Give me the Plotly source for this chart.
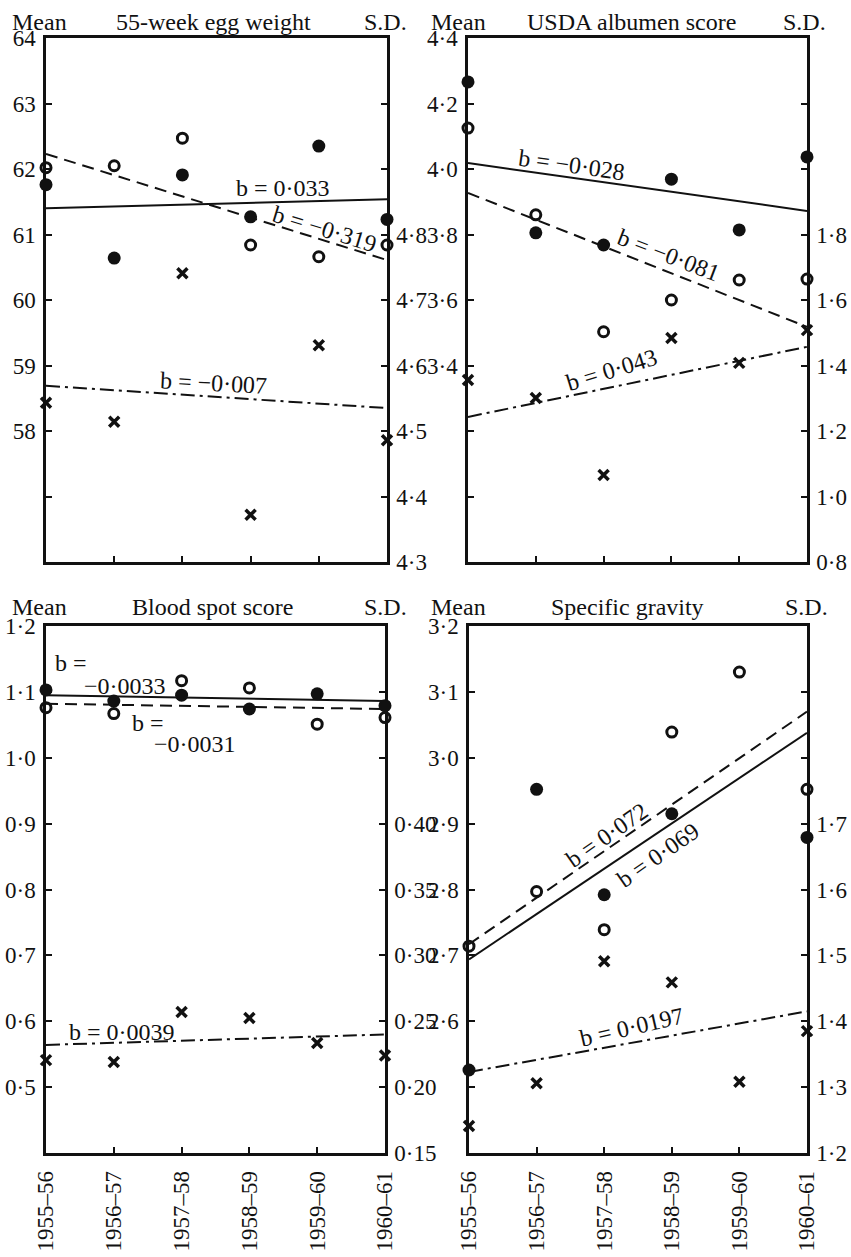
import plotly.graph_objects as go

# ---------------- data ----------------
years = ["1955–56", "1956–57", "1957–58", "1958–59", "1959–60", "1960–61"]
xi = [0, 1, 2, 3, 4, 5]
x_ends = [0, 5]

# Panel 1: 55-week egg weight
ew_filled = [61.76, 60.64, 61.91, 61.27, 62.35, 61.23]
ew_open = [62.02, 62.05, 62.47, 60.84, 60.66, 60.84]
ew_sd = [4.543, 4.514, 4.741, 4.372, 4.631, 4.486]
ew_fit_filled = [61.40, 61.54]
ew_fit_open = [62.23, 60.61]
ew_fit_sd = [4.569, 4.535]

# Panel 2: USDA albumen score
alb_filled = [4.266, 3.805, 3.768, 3.969, 3.814, 4.037]
alb_open = [4.125, 3.86, 3.503, 3.60, 3.661, 3.664]
alb_sd = [1.356, 1.301, 1.066, 1.484, 1.408, 1.508]
alb_fit_filled = [4.018, 3.872]
alb_fit_open = [3.927, 3.518]
alb_fit_sd = [1.243, 1.457]

# Panel 3: Blood spot score
bs_filled = [1.103, 1.086, 1.095, 1.074, 1.097, 1.079]
bs_open = [1.076, 1.067, 1.117, 1.106, 1.051, 1.061]
bs_sd = [0.2205, 0.219, 0.257, 0.2525, 0.2335, 0.224]
bs_fit_filled = [1.095, 1.086]
bs_fit_open = [1.082, 1.074]
bs_fit_sd = [0.232, 0.240]

# Panel 4: Specific gravity
sg_filled = [2.526, 2.952, 2.792, 2.915, None, 2.879]
sg_open = [2.714, 2.797, 2.739, 3.039, 3.130, 2.952]
sg_sd = [1.241, 1.306, 1.491, 1.459, 1.308, 1.385]
sg_fit_filled = [2.694, 3.038]
sg_fit_open = [2.717, 3.070]
sg_fit_sd = [1.323, 1.415]

# axis ticks (value, label)
p1_left = [(57, ""), (58, "58"), (59, "59"), (60, "60"), (61, "61"), (62, "62"), (63, "63"), (64, "64")]
p1_right = [(4.3, "4·3"), (4.4, "4·4"), (4.5, "4·5"), (4.6, "4·6"), (4.7, "4·7"), (4.8, "4·8"), (4.9, ""), (5.0, "")]
p2_left = [(3.0, ""), (3.2, ""), (3.4, "3·4"), (3.6, "3·6"), (3.8, "3·8"), (4.0, "4·0"), (4.2, "4·2"), (4.4, "4·4")]
p2_right = [(0.8, "0·8"), (1.0, "1·0"), (1.2, "1·2"), (1.4, "1·4"), (1.6, "1·6"), (1.8, "1·8"), (2.0, ""), (2.2, "")]
p3_left = [(0.5, "0·5"), (0.6, "0·6"), (0.7, "0·7"), (0.8, "0·8"), (0.9, "0·9"), (1.0, "1·0"), (1.1, "1·1"), (1.2, "1·2")]
p3_right = [(0.15, "0·15"), (0.20, "0·20"), (0.25, "0·25"), (0.30, "0·30"), (0.35, "0·35"), (0.40, "0·40"), (0.45, ""), (0.50, "")]
p4_left = [(2.5, ""), (2.6, "2·6"), (2.7, "2·7"), (2.8, "2·8"), (2.9, "2·9"), (3.0, "3·0"), (3.1, "3·1"), (3.2, "3·2")]
p4_right = [(1.2, "1·2"), (1.3, "1·3"), (1.4, "1·4"), (1.5, "1·5"), (1.6, "1·6"), (1.7, "1·7"), (1.8, ""), (1.9, "")]

titles = ["55-week egg weight", "USDA albumen score", "Blood spot score", "Specific gravity"]

# ---------------- layout helpers ----------------
W, H = 851, 1257
FONT = "Liberation Serif"
BLACK = "#111111"


def fx(px):
    return px / W


def fy(py):
    return 1 - py / H


def dom_x(a, b):
    return [fx(a), fx(b)]


def dom_y(top, bottom):
    return [fy(bottom), fy(top)]


panels = [
    dict(box=(46, 387, 38, 562), yl=(56, 64), yr=(4.3, 5.1), tl=p1_left, tr=p1_right,
         f=ew_filled, o=ew_open, s=ew_sd, ff=ew_fit_filled, fo=ew_fit_open, fs=ew_fit_sd, labels=False),
    dict(box=(468, 807, 38, 562), yl=(2.8, 4.4), yr=(0.8, 2.4), tl=p2_left, tr=p2_right,
         f=alb_filled, o=alb_open, s=alb_sd, ff=alb_fit_filled, fo=alb_fit_open, fs=alb_fit_sd, labels=False),
    dict(box=(46, 385, 626, 1153), yl=(0.4, 1.2), yr=(0.15, 0.55), tl=p3_left, tr=p3_right,
         f=bs_filled, o=bs_open, s=bs_sd, ff=bs_fit_filled, fo=bs_fit_open, fs=bs_fit_sd, labels=True),
    dict(box=(469, 807, 626, 1153), yl=(2.4, 3.2), yr=(1.2, 2.0), tl=p4_left, tr=p4_right,
         f=sg_filled, o=sg_open, s=sg_sd, ff=sg_fit_filled, fo=sg_fit_open, fs=sg_fit_sd, labels=True),
]

fig = go.Figure()
layout = {}
tickfont = dict(family=FONT, size=23, color=BLACK)

for k, p in enumerate(panels):
    n = k + 1
    xa = "xaxis" if n == 1 else f"xaxis{n}"
    xr = "x" if n == 1 else f"x{n}"
    yl_i = 2 * k + 1
    yr_i = 2 * k + 2
    yla = "yaxis" if yl_i == 1 else f"yaxis{yl_i}"
    ylr = "y" if yl_i == 1 else f"y{yl_i}"
    yra = f"yaxis{yr_i}"
    yrr = f"y{yr_i}"
    x0, x1, y0, y1 = p["box"]

    layout[xa] = dict(domain=dom_x(x0, x1), anchor=ylr, range=[0, 5], tickvals=xi, ticktext=years,
                      showticklabels=p["labels"], tickangle=-90, ticks="inside", ticklen=6, tickwidth=2,
                      tickcolor=BLACK, showline=True, linewidth=2.5, linecolor=BLACK, mirror=True,
                      showgrid=False, zeroline=False, tickfont=tickfont, ticklabelstandoff=6,
                      automargin=False)
    layout[yla] = dict(domain=dom_y(y0, y1), anchor=xr, range=list(p["yl"]),
                       tickvals=[t[0] for t in p["tl"]], ticktext=[t[1] for t in p["tl"]],
                       ticks="inside", ticklen=6, tickwidth=2, tickcolor=BLACK, showline=True,
                       linewidth=2.5, linecolor=BLACK, showgrid=False, zeroline=False,
                       tickfont=tickfont, ticklabelstandoff=3, automargin=False)
    layout[yra] = dict(overlaying=ylr, anchor=xr, side="right", range=list(p["yr"]),
                       tickvals=[t[0] for t in p["tr"]], ticktext=[t[1] for t in p["tr"]],
                       ticks="inside", ticklen=6, tickwidth=2, tickcolor=BLACK, showline=True,
                       linewidth=2.5, linecolor=BLACK, showgrid=False, zeroline=False,
                       tickfont=tickfont, ticklabelstandoff=2, automargin=False)

    # regression lines
    fig.add_trace(go.Scatter(x=x_ends, y=p["ff"], mode="lines", xaxis=xr, yaxis=ylr,
                             line=dict(color=BLACK, width=2), showlegend=False, cliponaxis=False))
    fig.add_trace(go.Scatter(x=x_ends, y=p["fo"], mode="lines", xaxis=xr, yaxis=ylr,
                             line=dict(color=BLACK, width=2, dash="12px,7px"), showlegend=False,
                             cliponaxis=False))
    fig.add_trace(go.Scatter(x=x_ends, y=p["fs"], mode="lines", xaxis=xr, yaxis=yrr,
                             line=dict(color=BLACK, width=2, dash="14px,5px,3px,5px"), showlegend=False,
                             cliponaxis=False))
    # points
    fig.add_trace(go.Scatter(x=xi, y=p["f"], mode="markers", xaxis=xr, yaxis=ylr,
                             marker=dict(symbol="circle", size=13, color=BLACK), showlegend=False,
                             cliponaxis=False))
    fig.add_trace(go.Scatter(x=xi, y=p["o"], mode="markers", xaxis=xr, yaxis=ylr,
                             marker=dict(symbol="circle-open", size=10, color=BLACK,
                                         line=dict(width=3, color=BLACK)), showlegend=False,
                             cliponaxis=False))
    fig.add_trace(go.Scatter(x=xi, y=p["s"], mode="markers", xaxis=xr, yaxis=yrr,
                             marker=dict(symbol="x-thin-open", size=10, color=BLACK,
                                         line=dict(width=3.5, color=BLACK)), showlegend=False,
                             cliponaxis=False))

annots = []
tfont = dict(family=FONT, size=24, color=BLACK)


def paper_text(text, px, py):
    annots.append(dict(text=text, x=fx(px), y=fy(py), xref="paper", yref="paper",
                       showarrow=False, font=tfont, xanchor="center", yanchor="middle"))


# header lines
paper_text("Mean", 39, 22)
paper_text(titles[0], 213, 22)
paper_text("S.D.", 385, 22)
paper_text("Mean", 459, 22)
paper_text(titles[1], 631, 22)
paper_text("S.D.", 804, 22)
paper_text("Mean", 39, 607)
paper_text(titles[2], 212, 607)
paper_text("S.D.", 385, 607)
paper_text("Mean", 459, 607)
paper_text(titles[3], 627, 607)
paper_text("S.D.", 806, 607)


def data_text(text, x, y, xref, yref, angle=0):
    annots.append(dict(text=text, x=x, y=y, xref=xref, yref=yref, showarrow=False, font=tfont,
                       textangle=angle, xanchor="center", yanchor="middle"))


# slope labels
data_text("b = 0·033", 3.47, 61.71, "x", "y")
data_text("b = −0·319", 4.08, 61.08, "x", "y", 17)
data_text("b = −0·007", 2.45, 58.73, "x", "y", 3)

data_text("b = −0·028", 1.53, 4.012, "x2", "y3", 8)
data_text("b = −0·081", 2.95, 3.737, "x2", "y3", 21)
data_text("b = 0·043", 2.12, 1.386, "x2", "y4", -17)

data_text("b =", 0.37, 1.144, "x3", "y5")
data_text("−0·0033", 1.17, 1.109, "x3", "y5")
data_text("b =", 1.50, 1.053, "x3", "y5")
data_text("−0·0031", 2.20, 1.021, "x3", "y5")
data_text("b = 0·0039", 1.12, 0.2415, "x3", "y6")

data_text("b = 0·072", 2.04, 2.883, "x4", "y7", -35)
data_text("b = 0·069", 2.80, 2.853, "x4", "y7", -35)
data_text("b = 0·0197", 2.41, 1.391, "x4", "y8", -13)

fig.update_layout(width=W, height=H, margin=dict(l=0, r=0, t=0, b=0, autoexpand=False),
                  paper_bgcolor="white", plot_bgcolor="white", showlegend=False,
                  annotations=annots, **layout)

fig.write_html("out.html", config={"displayModeBar": False},
               post_script="document.body.style.margin='0px';document.body.style.overflow='hidden';")
